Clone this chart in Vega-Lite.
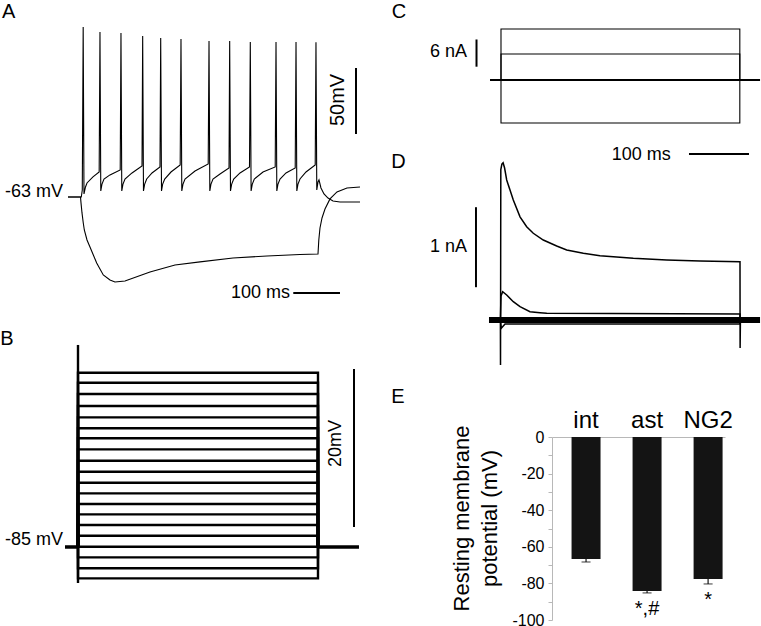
{
  "$schema": "https://vega.github.io/schema/vega-lite/v6.json",
  "padding": 0,
  "autosize": {"type": "pad"},
  "spacing": 0,
  "background": "white",
  "config": {
    "view": {"stroke": null},
    "font": "Liberation Sans",
    "text": {"font": "Liberation Sans", "color": "#000"},
    "axis": {"labelOverlap": false, "labelBound": false},
    "axisY": {"labelOverlap": false, "labelBound": false}
  },
  "datasets": {
    "aTrace": [
      {"trace": "dep", "t": -29.9, "v": -63},
      {"trace": "dep", "t": -1.7, "v": -63},
      {"trace": "dep", "t": 0.4, "v": -57.7},
      {"trace": "dep", "t": 2.3, "v": 65.8},
      {"trace": "dep", "t": 4.0, "v": -60.7},
      {"trace": "dep", "t": 7.2, "v": -55.4},
      {"trace": "dep", "t": 10.4, "v": -52.4},
      {"trace": "dep", "t": 23.1, "v": -47.8},
      {"trace": "dep", "t": 36.2, "v": -44.1},
      {"trace": "dep", "t": 37.9, "v": 62.0},
      {"trace": "dep", "t": 39.6, "v": -58.5},
      {"trace": "dep", "t": 42.2, "v": -53.2},
      {"trace": "dep", "t": 46.4, "v": -49.4},
      {"trace": "dep", "t": 59.1, "v": -46.3},
      {"trace": "dep", "t": 80.8, "v": -42.5},
      {"trace": "dep", "t": 82.4, "v": 61.2},
      {"trace": "dep", "t": 84.1, "v": -58.5},
      {"trace": "dep", "t": 86.7, "v": -53.2},
      {"trace": "dep", "t": 90.9, "v": -49.4},
      {"trace": "dep", "t": 105.8, "v": -44.8},
      {"trace": "dep", "t": 127.0, "v": -39.5},
      {"trace": "dep", "t": 128.4, "v": 59.0},
      {"trace": "dep", "t": 130.1, "v": -58.5},
      {"trace": "dep", "t": 132.7, "v": -53.2},
      {"trace": "dep", "t": 136.9, "v": -49.4},
      {"trace": "dep", "t": 148.2, "v": -44.8},
      {"trace": "dep", "t": 165.1, "v": -40.3},
      {"trace": "dep", "t": 166.6, "v": 57.5},
      {"trace": "dep", "t": 168.3, "v": -58.5},
      {"trace": "dep", "t": 170.8, "v": -53.2},
      {"trace": "dep", "t": 175.1, "v": -49.4},
      {"trace": "dep", "t": 188.4, "v": -44.1},
      {"trace": "dep", "t": 207.9, "v": -38.8},
      {"trace": "dep", "t": 209.6, "v": 56.7},
      {"trace": "dep", "t": 211.3, "v": -58.5},
      {"trace": "dep", "t": 213.9, "v": -53.2},
      {"trace": "dep", "t": 218.1, "v": -49.4},
      {"trace": "dep", "t": 239.3, "v": -43.3},
      {"trace": "dep", "t": 267.3, "v": -38.0},
      {"trace": "dep", "t": 269.0, "v": 55.2},
      {"trace": "dep", "t": 270.7, "v": -58.5},
      {"trace": "dep", "t": 273.2, "v": -53.2},
      {"trace": "dep", "t": 277.4, "v": -49.4},
      {"trace": "dep", "t": 292.3, "v": -45.6},
      {"trace": "dep", "t": 311.4, "v": -41.0},
      {"trace": "dep", "t": 312.8, "v": 55.2},
      {"trace": "dep", "t": 314.5, "v": -58.5},
      {"trace": "dep", "t": 317.1, "v": -53.2},
      {"trace": "dep", "t": 321.3, "v": -49.4},
      {"trace": "dep", "t": 334.7, "v": -44.8},
      {"trace": "dep", "t": 354.8, "v": -40.3},
      {"trace": "dep", "t": 356.5, "v": 54.4},
      {"trace": "dep", "t": 358.2, "v": -58.5},
      {"trace": "dep", "t": 360.8, "v": -53.2},
      {"trace": "dep", "t": 365.0, "v": -49.4},
      {"trace": "dep", "t": 383.4, "v": -44.1},
      {"trace": "dep", "t": 409.3, "v": -40.3},
      {"trace": "dep", "t": 411.0, "v": 54.4},
      {"trace": "dep", "t": 412.7, "v": -58.5},
      {"trace": "dep", "t": 415.2, "v": -53.2},
      {"trace": "dep", "t": 419.5, "v": -49.4},
      {"trace": "dep", "t": 432.2, "v": -44.8},
      {"trace": "dep", "t": 451.7, "v": -41.0},
      {"trace": "dep", "t": 453.4, "v": 54.4},
      {"trace": "dep", "t": 455.1, "v": -58.5},
      {"trace": "dep", "t": 457.6, "v": -53.2},
      {"trace": "dep", "t": 461.8, "v": -49.4},
      {"trace": "dep", "t": 474.6, "v": -44.1},
      {"trace": "dep", "t": 494.1, "v": -38.8},
      {"trace": "dep", "t": 495.7, "v": 54.2},
      {"trace": "dep", "t": 497.4, "v": -57.7},
      {"trace": "dep", "t": 500.0, "v": -51.6},
      {"trace": "dep", "t": 502.1, "v": -50.1},
      {"trace": "dep", "t": 506.3, "v": -56.2},
      {"trace": "dep", "t": 512.7, "v": -60.7},
      {"trace": "dep", "t": 521.2, "v": -63.8},
      {"trace": "dep", "t": 531.8, "v": -66.0},
      {"trace": "dep", "t": 546.6, "v": -66.8},
      {"trace": "dep", "t": 589.0, "v": -66.8},
      {"trace": "hyp", "t": -29.9, "v": -63},
      {"trace": "hyp", "t": -3.4, "v": -63},
      {"trace": "hyp", "t": -2.3, "v": -67.5},
      {"trace": "hyp", "t": -0.2, "v": -75.1},
      {"trace": "hyp", "t": 2.5, "v": -82.7},
      {"trace": "hyp", "t": 4.7, "v": -88.0},
      {"trace": "hyp", "t": 10.4, "v": -95.6},
      {"trace": "hyp", "t": 16.7, "v": -100.9},
      {"trace": "hyp", "t": 30.9, "v": -113.0},
      {"trace": "hyp", "t": 44.9, "v": -122.1},
      {"trace": "hyp", "t": 59.1, "v": -125.9},
      {"trace": "hyp", "t": 69.7, "v": -127.4},
      {"trace": "hyp", "t": 90.9, "v": -126.6},
      {"trace": "hyp", "t": 143.9, "v": -119.8},
      {"trace": "hyp", "t": 196.9, "v": -114.5},
      {"trace": "hyp", "t": 249.9, "v": -112.2},
      {"trace": "hyp", "t": 319.8, "v": -109.2},
      {"trace": "hyp", "t": 391.9, "v": -107.7},
      {"trace": "hyp", "t": 461.8, "v": -106.6},
      {"trace": "hyp", "t": 500.0, "v": -106.2},
      {"trace": "hyp", "t": 501.7, "v": -95.6},
      {"trace": "hyp", "t": 504.2, "v": -86.5},
      {"trace": "hyp", "t": 508.5, "v": -78.9},
      {"trace": "hyp", "t": 514.8, "v": -72.1},
      {"trace": "hyp", "t": 525.4, "v": -64.5},
      {"trace": "hyp", "t": 540.2, "v": -59.2},
      {"trace": "hyp", "t": 561.4, "v": -56.2},
      {"trace": "hyp", "t": 589.0, "v": -55.4}
    ],
    "aBar": [
      {"t": 447.6, "t2": 546.6, "v": -135.7, "v2": -135.7},
      {"t": 580.5, "t2": 580.5, "v": -15.3, "v2": 34.7}
    ],
    "aLetter": [{"label": "A", "t": -169.8, "v": 72.6}],
    "aLabel": [
      {"label": "-63 mV", "t": -40.5, "v": -62.8},
      {"label": "100 ms", "t": 440.6, "v": -139.7}
    ],
    "aRot": [{"label": "50mV", "t": 542.4, "v": 10.5}],
    "bSteps": [
      {"trace": "s1", "t": 0, "v": -85}, {"trace": "s1", "t": 0, "v": -62.94}, {"trace": "s1", "t": 500, "v": -62.94}, {"trace": "s1", "t": 500, "v": -85},
      {"trace": "s2", "t": 0, "v": -85}, {"trace": "s2", "t": 0, "v": -64.21}, {"trace": "s2", "t": 500, "v": -64.21}, {"trace": "s2", "t": 500, "v": -85},
      {"trace": "s3", "t": 0, "v": -85}, {"trace": "s3", "t": 0, "v": -65.64}, {"trace": "s3", "t": 500, "v": -65.64}, {"trace": "s3", "t": 500, "v": -85},
      {"trace": "s4", "t": 0, "v": -85}, {"trace": "s4", "t": 0, "v": -67.16}, {"trace": "s4", "t": 500, "v": -67.16}, {"trace": "s4", "t": 500, "v": -85},
      {"trace": "s5", "t": 0, "v": -85}, {"trace": "s5", "t": 0, "v": -68.59}, {"trace": "s5", "t": 500, "v": -68.59}, {"trace": "s5", "t": 500, "v": -85},
      {"trace": "s6", "t": 0, "v": -85}, {"trace": "s6", "t": 0, "v": -69.98}, {"trace": "s6", "t": 500, "v": -69.98}, {"trace": "s6", "t": 500, "v": -85},
      {"trace": "s7", "t": 0, "v": -85}, {"trace": "s7", "t": 0, "v": -71.24}, {"trace": "s7", "t": 500, "v": -71.24}, {"trace": "s7", "t": 500, "v": -85},
      {"trace": "s8", "t": 0, "v": -85}, {"trace": "s8", "t": 0, "v": -72.64}, {"trace": "s8", "t": 500, "v": -72.64}, {"trace": "s8", "t": 500, "v": -85},
      {"trace": "s9", "t": 0, "v": -85}, {"trace": "s9", "t": 0, "v": -74.08}, {"trace": "s9", "t": 500, "v": -74.08}, {"trace": "s9", "t": 500, "v": -85},
      {"trace": "s10", "t": 0, "v": -85}, {"trace": "s10", "t": 0, "v": -75.47}, {"trace": "s10", "t": 500, "v": -75.47}, {"trace": "s10", "t": 500, "v": -85},
      {"trace": "s11", "t": 0, "v": -85}, {"trace": "s11", "t": 0, "v": -76.87}, {"trace": "s11", "t": 500, "v": -76.87}, {"trace": "s11", "t": 500, "v": -85},
      {"trace": "s12", "t": 0, "v": -85}, {"trace": "s12", "t": 0, "v": -78.21}, {"trace": "s12", "t": 500, "v": -78.21}, {"trace": "s12", "t": 500, "v": -85},
      {"trace": "s13", "t": 0, "v": -85}, {"trace": "s13", "t": 0, "v": -79.56}, {"trace": "s13", "t": 500, "v": -79.56}, {"trace": "s13", "t": 500, "v": -85},
      {"trace": "s14", "t": 0, "v": -85}, {"trace": "s14", "t": 0, "v": -80.87}, {"trace": "s14", "t": 500, "v": -80.87}, {"trace": "s14", "t": 500, "v": -85},
      {"trace": "s15", "t": 0, "v": -85}, {"trace": "s15", "t": 0, "v": -82.22}, {"trace": "s15", "t": 500, "v": -82.22}, {"trace": "s15", "t": 500, "v": -85},
      {"trace": "s16", "t": 0, "v": -85}, {"trace": "s16", "t": 0, "v": -83.57}, {"trace": "s16", "t": 500, "v": -83.57}, {"trace": "s16", "t": 500, "v": -85},
      {"trace": "s17", "t": 0, "v": -85}, {"trace": "s17", "t": 0, "v": -84.97}, {"trace": "s17", "t": 500, "v": -84.97}, {"trace": "s17", "t": 500, "v": -85},
      {"trace": "s18", "t": 0, "v": -85}, {"trace": "s18", "t": 0, "v": -86.31}, {"trace": "s18", "t": 500, "v": -86.31}, {"trace": "s18", "t": 500, "v": -85},
      {"trace": "s19", "t": 0, "v": -85}, {"trace": "s19", "t": 0, "v": -87.70}, {"trace": "s19", "t": 500, "v": -87.70}, {"trace": "s19", "t": 500, "v": -85},
      {"trace": "s20", "t": 0, "v": -85}, {"trace": "s20", "t": 0, "v": -88.97}, {"trace": "s20", "t": 500, "v": -88.97}, {"trace": "s20", "t": 500, "v": -85},
      {"trace": "onset", "t": 0, "v": -59.43}, {"trace": "onset", "t": 0, "v": -89.56}
    ],
    "bBase": [
      {"trace": "pre", "t": -27.1, "v": -85}, {"trace": "pre", "t": 0, "v": -85},
      {"trace": "post", "t": 500, "v": -85}, {"trace": "post", "t": 585.4, "v": -85}
    ],
    "bBar": [{"t": 575, "t2": 575, "v": -82.47, "v2": -62.47}],
    "bLetter": [{"label": "B", "t": -162, "v": -59.43}],
    "bLabel": [{"label": "-85 mV", "t": -31.25, "v": -84.75}],
    "bRot": [{"label": "20mV", "t": 537.5, "v": -71.9}],
    "cSteps": [
      {"trace": "c1", "t": 0, "v": 0}, {"trace": "c1", "t": 0, "v": 11.77}, {"trace": "c1", "t": 398, "v": 11.77}, {"trace": "c1", "t": 398, "v": 0},
      {"trace": "c2", "t": 0, "v": 0}, {"trace": "c2", "t": 0, "v": 6.0}, {"trace": "c2", "t": 398, "v": 6.0}, {"trace": "c2", "t": 398, "v": 0},
      {"trace": "c3", "t": 0, "v": 0}, {"trace": "c3", "t": 0, "v": -9.92}, {"trace": "c3", "t": 398, "v": -9.92}, {"trace": "c3", "t": 398, "v": 0}
    ],
    "cBase": [{"t": -18.3, "v": 0}, {"t": 431.7, "v": 0}],
    "cBar": [
      {"t": -40.8, "t2": -40.8, "v": 3.07, "v2": 9.35},
      {"t": 313.3, "t2": 413.3, "v": -17.08, "v2": -17.08}
    ],
    "cLetter": [{"label": "C", "t": -182.2, "v": 14.3}],
    "cLabel": [
      {"label": "6 nA", "t": -56.7, "v": 5.3},
      {"label": "100 ms", "t": 282.8, "v": -18.46}
    ],
    "dTrace": [
      {"trace": "d1", "t": -1, "v": 0},
      {"trace": "d1", "t": -0.8, "v": -0.5625},
      {"trace": "d1", "t": -0.3, "v": 1.88},
      {"trace": "d1", "t": 1.5, "v": 1.95},
      {"trace": "d1", "t": 3.5, "v": 1.966},
      {"trace": "d1", "t": 6, "v": 1.9},
      {"trace": "d1", "t": 9.5, "v": 1.75},
      {"trace": "d1", "t": 20.5, "v": 1.5},
      {"trace": "d1", "t": 31.7, "v": 1.29},
      {"trace": "d1", "t": 42.8, "v": 1.166},
      {"trace": "d1", "t": 53.8, "v": 1.084},
      {"trace": "d1", "t": 70.5, "v": 1.0},
      {"trace": "d1", "t": 92.8, "v": 0.925},
      {"trace": "d1", "t": 109.5, "v": 0.875},
      {"trace": "d1", "t": 137.2, "v": 0.834},
      {"trace": "d1", "t": 165, "v": 0.804},
      {"trace": "d1", "t": 220.5, "v": 0.771},
      {"trace": "d1", "t": 276.2, "v": 0.75},
      {"trace": "d1", "t": 331.7, "v": 0.7375},
      {"trace": "d1", "t": 398.3, "v": 0.729},
      {"trace": "d1", "t": 398.5, "v": -0.35},
      {"trace": "d1", "t": 399, "v": 0},
      {"trace": "d2", "t": -1, "v": 0},
      {"trace": "d2", "t": 0, "v": 0.3},
      {"trace": "d2", "t": 2.8, "v": 0.354},
      {"trace": "d2", "t": 9.5, "v": 0.3125},
      {"trace": "d2", "t": 20.5, "v": 0.229},
      {"trace": "d2", "t": 31.7, "v": 0.166},
      {"trace": "d2", "t": 48.3, "v": 0.104},
      {"trace": "d2", "t": 65, "v": 0.091},
      {"trace": "d2", "t": 76.2, "v": 0.084},
      {"trace": "d2", "t": 398.3, "v": 0.075},
      {"trace": "d2", "t": 398.5, "v": 0},
      {"trace": "d3", "t": -1, "v": 0},
      {"trace": "d3", "t": 0.5, "v": -0.104},
      {"trace": "d3", "t": 6.7, "v": -0.05},
      {"trace": "d3", "t": 398.3, "v": -0.05},
      {"trace": "d3", "t": 398.5, "v": 0}
    ],
    "dBase": [{"t": -20, "v": 0}, {"t": 431.7, "v": 0}],
    "dBar": [{"t": -41.7, "t2": -41.7, "v": 0.41, "v2": 1.41}],
    "dLetter": [
      {"label": "D", "t": -182.7, "v": 1.9},
      {"label": "E", "t": -182.7, "v": -1.0375}
    ],
    "dLabel": [{"label": "1 nA", "t": -56.7, "v": 0.854}],
    "rmp": [
      {"cell": "int", "rmp": -66.7, "err": -68.3, "sig": ""},
      {"cell": "ast", "rmp": -84.2, "err": -85.2, "sig": "*,#"},
      {"cell": "NG2", "rmp": -77.6, "err": -80.3, "sig": "*"}
    ]
  },
  "hconcat": [
    {
      "spacing": 0,
      "bounds": "flush",
      "vconcat": [
        {
          "width": 385,
          "height": 320,
          "encoding": {
            "x": {"field": "t", "type": "quantitative", "scale": {"domain": [-174, 642], "nice": false, "zero": false}, "axis": null},
            "y": {"field": "v", "type": "quantitative", "scale": {"domain": [-156.2, 86.2], "nice": false, "zero": false}, "axis": null}
          },
          "layer": [
            {"data": {"name": "aTrace"}, "mark": {"type": "line", "color": "#000", "strokeWidth": 1.1}, "encoding": {"detail": {"field": "trace"}, "order": {"value": null}}},
            {"data": {"name": "aBar"}, "mark": {"type": "rule", "color": "#000", "strokeWidth": 2}, "encoding": {"x2": {"field": "t2"}, "y2": {"field": "v2"}}},
            {"data": {"name": "aLetter"}, "mark": {"type": "text", "align": "left", "baseline": "alphabetic", "fontSize": 20}, "encoding": {"text": {"field": "label", "type": "nominal"}}},
            {"data": {"name": "aLabel"}, "mark": {"type": "text", "align": "right", "baseline": "alphabetic", "fontSize": 18}, "encoding": {"text": {"field": "label", "type": "nominal"}}},
            {"data": {"name": "aRot"}, "mark": {"type": "text", "align": "center", "baseline": "middle", "angle": 270, "fontSize": 20}, "encoding": {"text": {"field": "label", "type": "nominal"}}}
          ]
        },
        {
          "width": 385,
          "height": 306,
          "encoding": {
            "x": {"field": "t", "type": "quantitative", "scale": {"domain": [-162.5, 639.6], "nice": false, "zero": false}, "axis": null},
            "y": {"field": "v", "type": "quantitative", "scale": {"domain": [-95, -56.27], "nice": false, "zero": false}, "axis": null}
          },
          "layer": [
            {"data": {"name": "bSteps"}, "mark": {"type": "line", "color": "#000", "strokeWidth": 2.4}, "encoding": {"detail": {"field": "trace"}, "order": {"value": null}}},
            {"data": {"name": "bBase"}, "mark": {"type": "line", "color": "#000", "strokeWidth": 3.5}, "encoding": {"detail": {"field": "trace"}, "order": {"value": null}}},
            {"data": {"name": "bBar"}, "mark": {"type": "rule", "color": "#000", "strokeWidth": 2}, "encoding": {"x2": {"field": "t2"}, "y2": {"field": "v2"}}},
            {"data": {"name": "bLetter"}, "mark": {"type": "text", "align": "left", "baseline": "alphabetic", "fontSize": 20}, "encoding": {"text": {"field": "label", "type": "nominal"}}},
            {"data": {"name": "bLabel"}, "mark": {"type": "text", "align": "right", "baseline": "alphabetic", "fontSize": 18}, "encoding": {"text": {"field": "label", "type": "nominal"}}},
            {"data": {"name": "bRot"}, "mark": {"type": "text", "align": "center", "baseline": "middle", "angle": 270, "fontSize": 18}, "encoding": {"text": {"field": "label", "type": "nominal"}}}
          ]
        }
      ]
    },
    {
      "spacing": 0,
      "bounds": "flush",
      "vconcat": [
        {
          "width": 376,
          "height": 160,
          "encoding": {
            "x": {"field": "t", "type": "quantitative", "scale": {"domain": [-193.3, 433.3], "nice": false, "zero": false}, "axis": null},
            "y": {"field": "v", "type": "quantitative", "scale": {"domain": [-18.46, 18.46], "nice": false, "zero": false}, "axis": null}
          },
          "layer": [
            {"data": {"name": "cSteps"}, "mark": {"type": "line", "color": "#000", "strokeWidth": 1.1}, "encoding": {"detail": {"field": "trace"}, "order": {"value": null}}},
            {"data": {"name": "cBase"}, "mark": {"type": "line", "color": "#000", "strokeWidth": 2}, "encoding": {"order": {"value": null}}},
            {"data": {"name": "cBar"}, "mark": {"type": "rule", "color": "#000", "strokeWidth": 2}, "encoding": {"x2": {"field": "t2"}, "y2": {"field": "v2"}}},
            {"data": {"name": "cLetter"}, "mark": {"type": "text", "align": "left", "baseline": "alphabetic", "fontSize": 20}, "encoding": {"text": {"field": "label", "type": "nominal"}}},
            {"data": {"name": "cLabel"}, "mark": {"type": "text", "align": "right", "baseline": "alphabetic", "fontSize": 18}, "encoding": {"text": {"field": "label", "type": "nominal"}}}
          ]
        },
        {
          "width": 376,
          "height": 277,
          "encoding": {
            "x": {"field": "t", "type": "quantitative", "scale": {"domain": [-193.3, 433.3], "nice": false, "zero": false}, "axis": null},
            "y": {"field": "v", "type": "quantitative", "scale": {"domain": [-1.4625, 2.0], "nice": false, "zero": false}, "axis": null}
          },
          "layer": [
            {"data": {"name": "dBase"}, "mark": {"type": "line", "color": "#000", "strokeWidth": 6}, "encoding": {"order": {"value": null}}},
            {"data": {"name": "dTrace"}, "mark": {"type": "line", "color": "#000", "strokeWidth": 1.5}, "encoding": {"detail": {"field": "trace"}, "order": {"value": null}}},
            {"data": {"name": "dBar"}, "mark": {"type": "rule", "color": "#000", "strokeWidth": 2}, "encoding": {"x2": {"field": "t2"}, "y2": {"field": "v2"}}},
            {"data": {"name": "dLetter"}, "mark": {"type": "text", "align": "left", "baseline": "alphabetic", "fontSize": 20}, "encoding": {"text": {"field": "label", "type": "nominal"}}},
            {"data": {"name": "dLabel"}, "mark": {"type": "text", "align": "right", "baseline": "alphabetic", "fontSize": 18}, "encoding": {"text": {"field": "label", "type": "nominal"}}}
          ]
        },
        {
          "spacing": 0,
          "bounds": "flush",
          "hconcat": [
            {"width": 167, "height": 183, "data": {"values": []}, "mark": "point", "encoding": {}},
            {
              "width": 173,
              "height": 183,
              "data": {"name": "rmp"},
              "encoding": {
                "x": {
                  "field": "cell", "type": "nominal", "sort": null,
                  "scale": {"paddingInner": 0.525, "paddingOuter": 0.18, "align": 0.89},
                  "axis": {"orient": "top", "title": null, "labelAngle": 0, "labelFontSize": 24, "labelFont": "Liberation Sans", "labelColor": "#000", "ticks": false, "tickSize": 0, "labelPadding": 5, "domainColor": "#b8b8b8", "domainWidth": 1}
                },
                "y": {
                  "field": "rmp", "type": "quantitative",
                  "scale": {"domain": [-100, 0], "nice": false},
                  "axis": {
                    "title": ["Resting membrane", "potential (mV)"],
                    "titleFontSize": 22, "titleFontWeight": "normal", "titleFont": "Liberation Sans", "titleColor": "#000",
                    "titleLineHeight": 28, "titlePadding": 10, "titleY": 81,
                    "values": [0, -10, -20, -30, -40, -50, -60, -70, -80, -90, -100],
                    "labelExpr": "datum.value % 20 === 0 ? '' + datum.value : ''",
                    "labelOverlap": false, "labelBound": false,
                    "labelFontSize": 16, "labelFont": "Liberation Sans", "labelColor": "#000", "labelPadding": 4,
                    "tickColor": "#b8b8b8", "tickSize": 4, "domainColor": "#b8b8b8", "grid": false
                  }
                }
              },
              "layer": [
                {"mark": {"type": "bar", "color": "#141414"}},
                {"mark": {"type": "rule", "color": "#141414", "strokeWidth": 1.2}, "encoding": {"y2": {"field": "err"}}},
                {"transform": [{"filter": "datum.err < 0"}], "mark": {"type": "tick", "orient": "horizontal", "color": "#141414", "size": 9, "thickness": 1.2, "yOffset": 0}, "encoding": {"y": {"field": "err", "type": "quantitative", "scale": {"domain": [-100, 0], "nice": false}, "axis": {"title": ["Resting membrane", "potential (mV)"], "values": [0, -10, -20, -30, -40, -50, -60, -70, -80, -90, -100], "labelExpr": "datum.value % 20 === 0 ? '' + datum.value : ''", "labelOverlap": false}}}},
                {"mark": {"type": "text", "baseline": "top", "align": "center", "dy": 6, "fontSize": 20}, "encoding": {"y": {"field": "err", "type": "quantitative", "scale": {"domain": [-100, 0], "nice": false}, "axis": {"title": ["Resting membrane", "potential (mV)"], "values": [0, -10, -20, -30, -40, -50, -60, -70, -80, -90, -100], "labelExpr": "datum.value % 20 === 0 ? '' + datum.value : ''", "labelOverlap": false}}, "text": {"field": "sig", "type": "nominal"}}}
              ]
            }
          ]
        }
      ]
    }
  ]
}
